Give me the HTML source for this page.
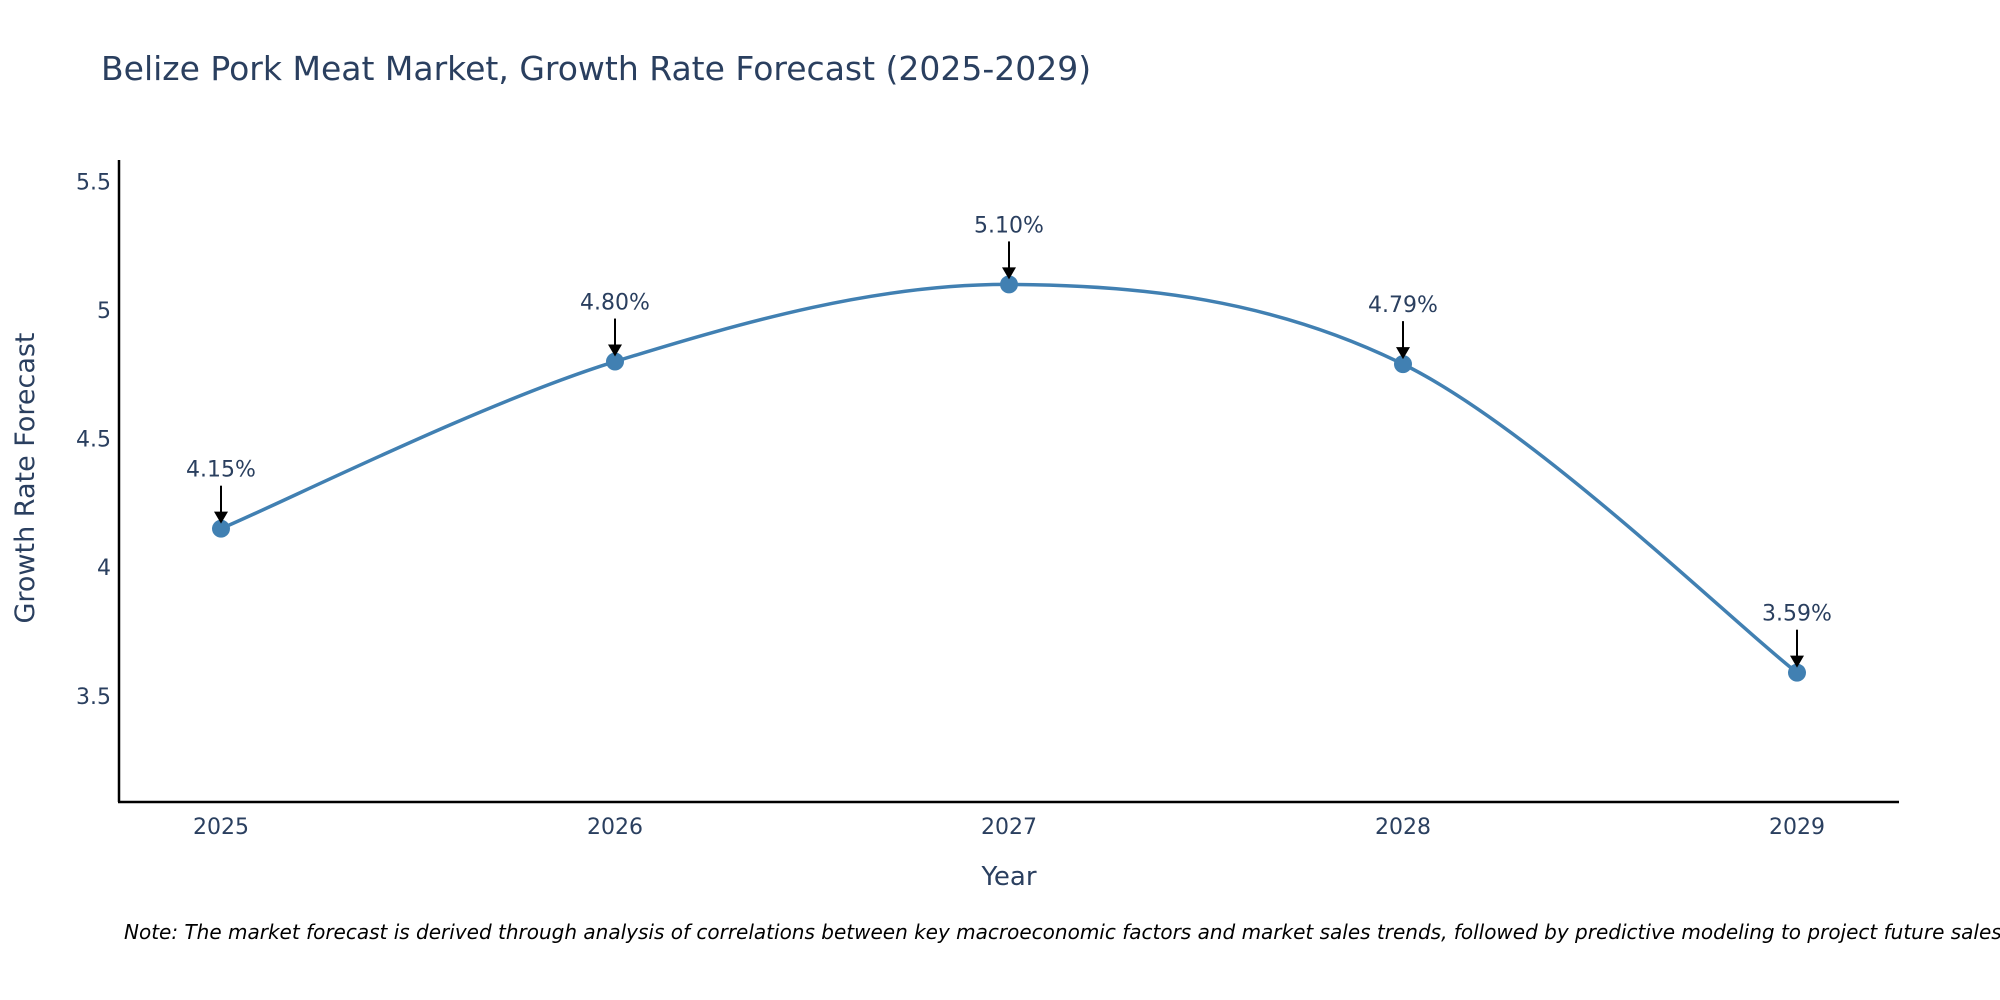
<!DOCTYPE html>
<html><head><meta charset="utf-8"><style>
html,body{margin:0;padding:0;background:#fff;}
svg{display:block;font-family:"DejaVu Sans","Liberation Sans",sans-serif;}
</style></head><body>
<svg id="chart" width="2000" height="1000" viewBox="0 0 2000 1000" xmlns="http://www.w3.org/2000/svg">
<rect width="2000" height="1000" fill="#fff"/>
<text x="101" y="80" font-size="33" fill="#2a3f5f">Belize Pork Meat Market, Growth Rate Forecast (2025-2029)</text>
<g id="yticks"></g>
<g id="xticks"></g>
<line x1="119" y1="160" x2="119" y2="802" stroke="#000" stroke-width="2.5"/>
<line x1="118" y1="802" x2="1899" y2="802" stroke="#000" stroke-width="2.5"/>
<text transform="translate(34,478) rotate(-90)" text-anchor="middle" font-size="27" fill="#2a3f5f">Growth Rate Forecast</text>
<text x="1009" y="885" text-anchor="middle" font-size="26" fill="#2a3f5f">Year</text>
<g id="series"></g>
<g id="annots"></g>
<text x="124" y="939" font-size="20" font-style="italic" fill="#000">Note: The market forecast is derived through analysis of correlations between key macroeconomic factors and market sales trends, followed by predictive modeling to project future sales.</text>
</svg>
<script>
const years = [2025, 2026, 2027, 2028, 2029];
const growth = [4.15, 4.80, 5.10, 4.79, 3.59];
const growthLabels = ["4.15%", "4.80%", "5.10%", "4.79%", "3.59%"];
const yTickValues = [3.5, 4, 4.5, 5, 5.5];
const yTickLabels = ["3.5", "4", "4.5", "5", "5.5"];

const NS = "http://www.w3.org/2000/svg";
const yMin = 3.087, yMax = 5.58, plotTop = 161, plotBottom = 802;
function yScale(v){ return plotBottom - (v - yMin) / (yMax - yMin) * (plotBottom - plotTop); }
function xScale(yr){ return 221 + (yr - years[0]) * 394; }
function mk(tag, attrs, parent){ const e = document.createElementNS(NS, tag); for (const k in attrs) e.setAttribute(k, attrs[k]); parent.appendChild(e); return e; }

const yt = document.getElementById('yticks');
yTickValues.forEach((v, i) => {
  const t = mk('text', {x: 111, y: yScale(v) + 8, 'text-anchor': 'end', 'font-size': 22, fill: '#2a3f5f'}, yt);
  
  
  t.textContent = yTickLabels[i];
});
const xt = document.getElementById('xticks');
years.forEach(yr => {
  const t = mk('text', {x: xScale(yr), y: 834, 'text-anchor': 'middle', 'font-size': 22, fill: '#2a3f5f'}, xt);
  
  
  t.textContent = String(yr);
});

const pts = years.map((yr, i) => [xScale(yr), yScale(growth[i])]);
let d = 'M' + pts[0][0] + ',' + pts[0][1];
for (let i = 0; i < pts.length - 1; i++) {
  const p0 = pts[Math.max(i - 1, 0)], p1 = pts[i], p2 = pts[i + 1], p3 = pts[Math.min(i + 2, pts.length - 1)];
  const c1 = [p1[0] + (p2[0] - p0[0]) / 6, p1[1] + (p2[1] - p0[1]) / 6];
  const c2 = [p2[0] - (p3[0] - p1[0]) / 6, p2[1] - (p3[1] - p1[1]) / 6];
  d += ' C' + c1.join(',') + ' ' + c2.join(',') + ' ' + p2.join(',');
}
const ser = document.getElementById('series');
const line = mk('path', {d: d, fill: 'none', stroke: '#4180b2', 'stroke-width': 3.5}, ser);


pts.forEach(p => {
  const c = mk('circle', {cx: p[0], cy: p[1], r: 9, fill: '#4180b2'}, ser);
  
  
});

const an = document.getElementById('annots');
pts.forEach((p, i) => {
  const l = mk('line', {x1: p[0], y1: p[1] - 43, x2: p[0], y2: p[1] - 16, stroke: '#000', 'stroke-width': 2}, an);
  
  
  const h = mk('path', {d: `M${p[0]-7},${p[1]-17} L${p[0]+7},${p[1]-17} L${p[0]},${p[1]-5} Z`, fill: '#000'}, an);
  
  
  const t = mk('text', {x: p[0], y: p[1] - 52, 'text-anchor': 'middle', 'font-size': 22, fill: '#2a3f5f'}, an);
  
  
  t.textContent = growthLabels[i];
});
</script>
</body></html>
